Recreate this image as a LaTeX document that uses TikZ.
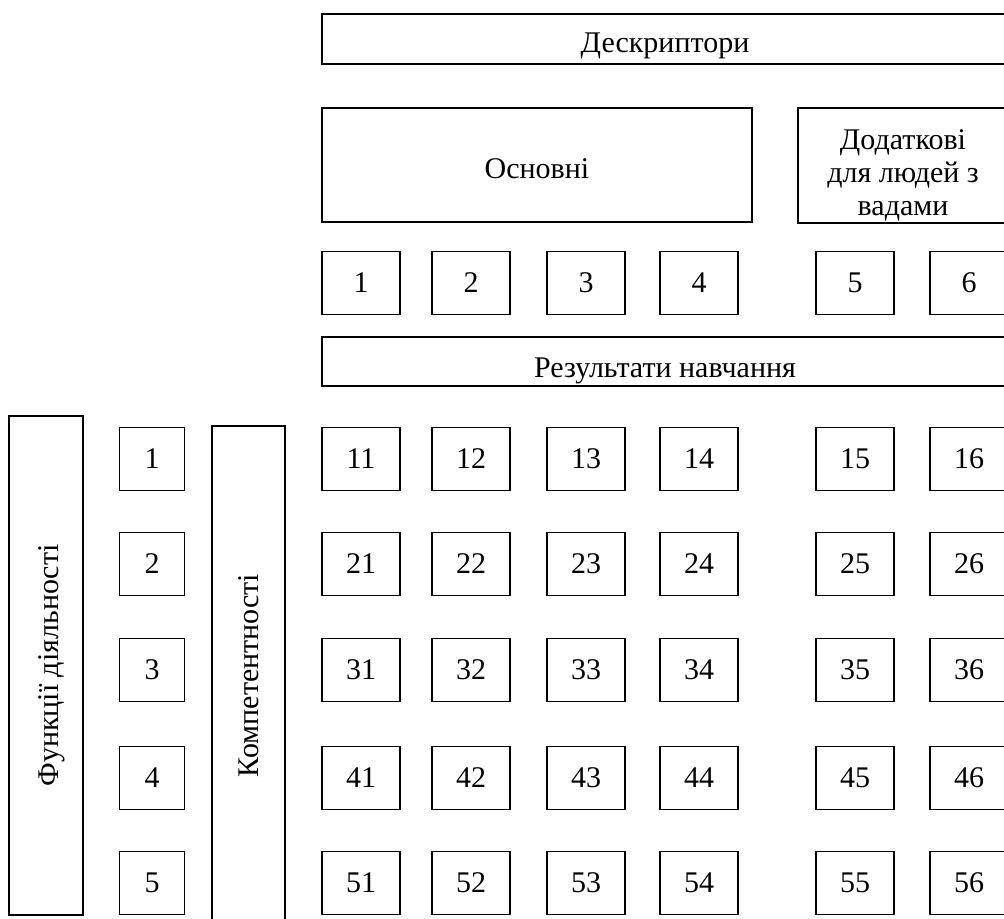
\documentclass[tikz,border=0pt]{standalone}
\usepackage{fontspec}
\setmainfont{Liberation Serif}
\usetikzlibrary{positioning}

\begin{document}
\begin{tikzpicture}[x=0.5pt,y=-0.5pt,
	box/.style={draw, line width=0.8pt, inner sep=0pt, align=center, font=\fontsize{15}{16.5}\selectfont},
	cell/.style={box, minimum width=39pt, minimum height=31.5pt},
	lowtext/.style={text depth=0pt, text height=#1}]
	\useasboundingbox (0,0) rectangle (1004,918);
	% top bands
	\node[box, lowtext=13pt, minimum width=343pt, minimum height=25pt] (desc) at (665,39) {Дескриптори};
	\node[box, lowtext=13pt, minimum width=215pt, minimum height=57pt] (basic) at (537,165) {Основні};
	\node[box, lowtext=50pt, minimum width=105pt, minimum height=57.5pt] (extra) at (903,165.5) {Додаткові\\для людей з\\вадами};
	\foreach \c/\x in {1/361,2/471,3/586,4/699,5/855,6/969} {
		\node[cell] (d\c) at (\x,283) {\c};
	}
	\node[box, lowtext=16pt, minimum width=343pt, minimum height=24.5pt] (res) at (665,361.5) {Результати навчання};
	% left side
	\node[box, lowtext=12pt, rotate=90, minimum width=249.5pt, minimum height=37pt] (func) at (46,665.5) {Функції діяльності};
	\node[box, rotate=90, minimum width=249.5pt, minimum height=36.5pt] (comp) at (248.5,675.5) {Компетентності};
	% grid
	\foreach \r/\y in {1/459,2/564,3/670,4/778,5/883} {
		\node[cell, minimum width=32.5pt] (f\r) at (152,\y) {\r};
		\foreach \c/\x in {1/361,2/471,3/586,4/699,5/855,6/969} {
			\node[cell] (c\r\c) at (\x,\y) {\r\c};
		}
	}
\end{tikzpicture}
\end{document}
